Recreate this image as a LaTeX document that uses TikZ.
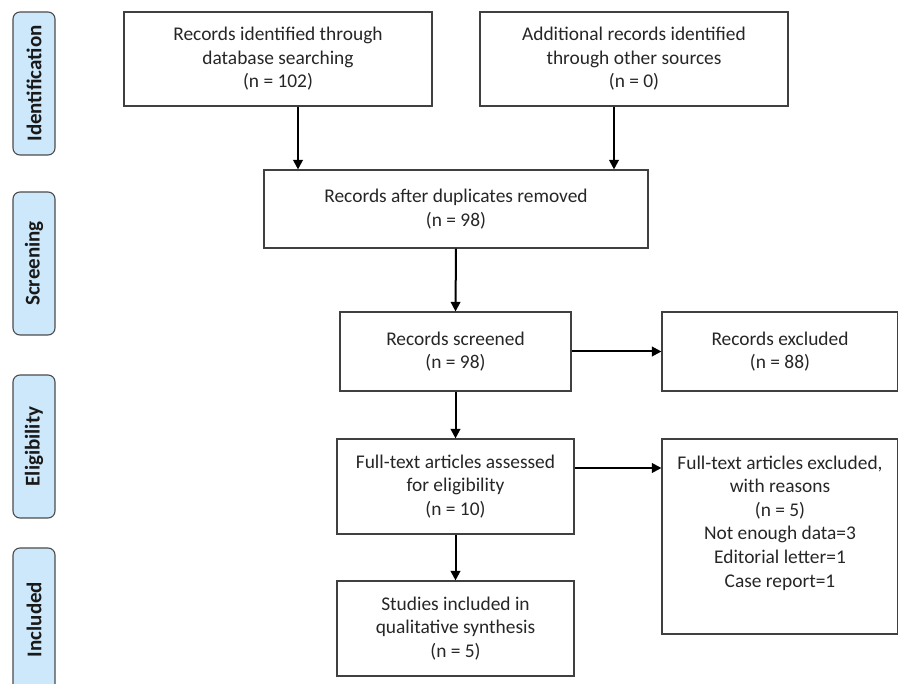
\documentclass[tikz,border=0pt]{standalone}
\usepackage{fontspec}
\setmainfont{Carlito}
\usetikzlibrary{arrows.meta}
\definecolor{phaseblue}{HTML}{CDE8FA}
\tikzset{
	box/.style={draw=black!75, line width=1.1pt, text=black!85, align=center, inner sep=0pt, font=\fontsize{19.4}{23.6}\selectfont},
	phase/.style={draw=black!70, fill=phaseblue, line width=1.1pt, rounded corners=7pt, rotate=90, minimum width=143, minimum height=42, inner sep=0pt, text=black!90, font=\fontsize{21}{24}\selectfont\bfseries},
	flow/.style={line width=2pt, -{Triangle[length=9.5pt,width=9.5pt]}}
}

\begin{document}
\begin{tikzpicture}[x=1pt, y=-1pt]
			%%%%% START %%%%%
			
			\useasboundingbox (0, 0) rectangle (898, 684);
			
			\node[phase] (ident) at (34, 83.5) {Identification};
			\node[phase] (screen) at (34, 263.5) {Screening};
			\node[phase] (elig) at (34, 446.5) {Eligibility};
			\node[phase] (incl) at (34, 619.5) {Included};
			
			\node[box, minimum width=308, minimum height=94] (database) at (278, 59) {Records identified through\\database searching\\(n = 102)};
			\node[box, minimum width=308, minimum height=94] (other) at (634, 59) {Additional records identified\\through other sources\\(n = 0)};
			\node[box, minimum width=384, minimum height=78] (dup) at (456, 209) {Records after duplicates removed\\(n = 98)};
			\node[box, minimum width=231, minimum height=79] (screened) at (455.5, 351.5) {Records screened\\(n = 98)};
			\node[box, minimum width=236, minimum height=79] (excluded) at (780, 351.5) {Records excluded\\(n = 88)};
			\node[box, minimum width=237, minimum height=95] (fulltext) at (455.5, 486.5) {Full-text articles assessed\\for eligibility\\(n = 10)};
			\node[box, minimum width=236, minimum height=195] (ftexcl) at (780, 536.5) {};
			\node[box, draw=none] (reasons) at (780, 523) {Full-text articles excluded,\\with reasons\\(n = 5)\\Not enough data=3\\Editorial letter=1\\Case report=1};
			\node[box, minimum width=237, minimum height=95] (included) at (455.5, 628.5) {Studies included in\\qualitative synthesis\\(n = 5)};
			
			\draw[flow] ([xshift=20pt]database.south) -- ([xshift=20pt]database.south |- dup.north);
			\draw[flow] ([xshift=-20pt]other.south) -- ([xshift=-20pt]other.south |- dup.north);
			\draw[flow] (dup.south) -- (screened.north);
			\draw[flow] (screened.east) -- (excluded.west);
			\draw[flow] (screened.south) -- (fulltext.north);
			\draw[flow] ([yshift=18.5pt]fulltext.east) -- ([yshift=18.5pt]fulltext.east -| ftexcl.west);
			\draw[flow] (fulltext.south) -- (included.north);
			
			%%%%% END %%%%%
\end{tikzpicture}
\end{document}
